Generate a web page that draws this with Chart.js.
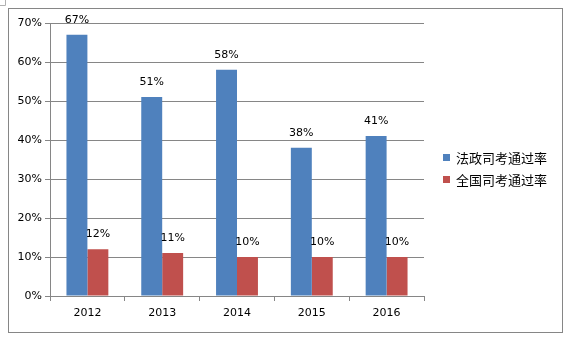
<!DOCTYPE html>
<html>
<head>
<meta charset="utf-8">
<script src="https://cdn.jsdelivr.net/npm/chart.js@4"></script>
<style>
  html, body { margin: 0; padding: 0; background: #ffffff; }
  #wrap { width: 576px; height: 340px; }
</style>
</head>
<body>
<div id="wrap"><canvas id="passChart" width="576" height="340"></canvas></div>
<script>
// Data
const years = ['2012', '2013', '2014', '2015', '2016'];
const lawSchoolRate = [67, 51, 58, 38, 41];
const nationalRate = [12, 11, 10, 10, 10];
const seriesNames = ['法政司考通过率', '全国司考通过率'];
const yTicks = [0, 10, 20, 30, 40, 50, 60, 70];

const blue = '#4F81BD';
const red = '#C0504D';
const gridGray = '#868686';
const font = 'DejaVu Sans';

// Outer frame of the chart
const framePlugin = {
    id: 'frame',
    beforeDraw(chart) {
        const ctx = chart.ctx;
        ctx.save();
        ctx.fillStyle = '#ffffff';
        ctx.fillRect(0, 0, chart.width, chart.height);
        ctx.strokeStyle = gridGray;
        ctx.lineWidth = 1;
        ctx.strokeRect(8.5, 8.5, 554, 324);
        ctx.beginPath();
        ctx.moveTo(0, 5.5);
        ctx.lineTo(5.5, 5.5);
        ctx.lineTo(5.5, 0);
        ctx.strokeStyle = '#b0b0b0';
        ctx.stroke();
        ctx.restore();
    }
};

// Percentage labels over each bar
const valueLabels = {
    id: 'valueLabels',
    afterDatasetsDraw(chart) {
        const ctx = chart.ctx;
        ctx.save();
        ctx.font = '11px "' + font + '"';
        ctx.fillStyle = '#000000';
        ctx.textAlign = 'center';
        ctx.textBaseline = 'middle';
        chart.data.datasets.forEach((ds, i) => {
            chart.getDatasetMeta(i).data.forEach((bar, j) => {
                ctx.fillText(ds.data[j] + '%', bar.x, bar.y - 15);
            });
        });
        ctx.restore();
    }
};

// Legend on the right side
const sideLegend = {
    id: 'sideLegend',
    afterDraw(chart) {
        const ctx = chart.ctx;
        ctx.save();
        ctx.font = '13px "Noto Sans CJK SC"';
        ctx.textBaseline = 'middle';
        ctx.textAlign = 'left';
        chart.data.datasets.forEach((ds, i) => {
            const y = 158 + i * 22;
            ctx.fillStyle = ds.backgroundColor;
            ctx.fillRect(443, y - 4, 7, 7);
            ctx.fillStyle = '#000000';
            ctx.fillText(ds.label, 456, y);
        });
        ctx.restore();
    }
};

new Chart(document.getElementById('passChart').getContext('2d'), {
    type: 'bar',
    data: {
        labels: years,
        datasets: [
            { label: seriesNames[0], data: lawSchoolRate, backgroundColor: blue },
            { label: seriesNames[1], data: nationalRate, backgroundColor: red }
        ]
    },
    options: {
        responsive: false,
        animation: false,
        devicePixelRatio: 1,
        layout: { padding: { left: 0, top: 23, right: 152, bottom: 0 } },
        datasets: {
            bar: { categoryPercentage: 0.56, barPercentage: 1.0 }
        },
        plugins: {
            legend: { display: false },
            tooltip: { enabled: false }
        },
        scales: {
            x: {
                offset: true,
                grid: {
                    offset: true,
                    drawOnChartArea: false,
                    drawTicks: true,
                    tickLength: 5,
                    color: gridGray
                },
                border: { color: gridGray },
                ticks: {
                    color: '#000000',
                    padding: 6,
                    font: { family: font, size: 11 }
                },
                afterFit(scale) { scale.height = 44; }
            },
            y: {
                min: 0,
                max: 70,
                afterBuildTicks(scale) {
                    scale.ticks = yTicks.map(v => ({ value: v }));
                },
                grid: {
                    color: gridGray,
                    tickLength: 5
                },
                border: { color: gridGray },
                ticks: {
                    color: '#000000',
                    padding: 3,
                    font: { family: font, size: 11 },
                    callback: v => v + '%'
                },
                afterFit(scale) { scale.width = 50; }
            }
        }
    },
    plugins: [framePlugin, valueLabels, sideLegend]
});
</script>
</body>
</html>
